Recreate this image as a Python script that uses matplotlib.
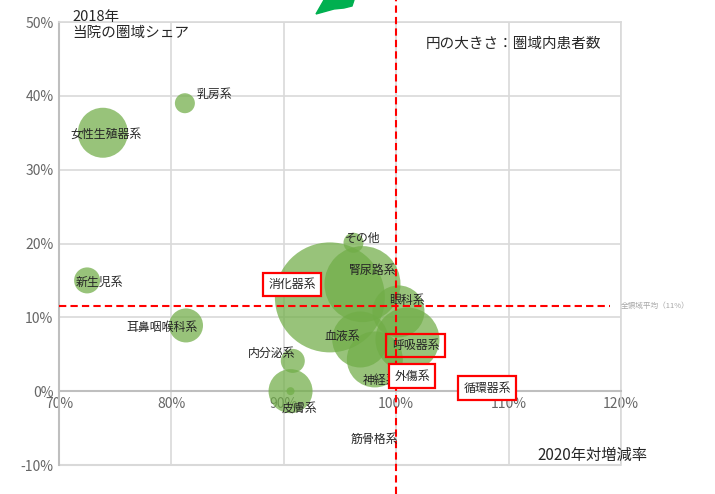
import matplotlib
matplotlib.use("Agg")
import matplotlib.pyplot as plt
import numpy as np
from matplotlib.patches import Polygon

plt.rcParams['font.family'] = ['Noto Sans CJK JP', 'DejaVu Sans']

# ---- data ----
names = ['消化器系', '腎尿路系', '呼吸器系', '血液系', '神経系', '眼科系', '女性生殖器系',
         '皮膚系', '耳鼻咽喉科系', '新生児系', '内分泌系', '乳房系', 'その他', '外傷系',
         '循環器系', '筋骨格系']
growth = [94.1, 97.0, 101.0, 96.8, 98.1, 100.2, 73.9, 90.6, 81.3, 72.5, 90.8, 81.2, 96.2,
          101.7, 108.1, 90.6]          # 2020年対増減率 (%)
share = [12.7, 14.5, 7.0, 7.0, 4.3, 10.8, 35.0, 0.0, 8.9, 15.0, 4.1, 39.0, 20.1,
         1.9, 0.4, 0.0]                # 2018年 当院の圏域シェア (%)
patients = [3025, 1444, 1024, 784, 784, 676, 625, 484, 289, 169, 144, 100, 100,
            36, 25, 16]                # 圏域内患者数 (relative)
avg_share = 11.5
boxed = {'消化器系': 'white', '呼吸器系': 'none', '外傷系': 'white', '循環器系': 'white'}
# label offsets in pixels (dx, dy) relative to bubble centre
label_off = {'消化器系': (-38, 13), '腎尿路系': (10, 14), '呼吸器系': (8, -6), '血液系': (-18, 3),
             '神経系': (6, -21), '眼科系': (8, 11), '女性生殖器系': (3, -2), '皮膚系': (9, -17),
             '耳鼻咽喉科系': (-24, -2), '新生児系': (12, -2), '内分泌系': (-21, 8), '乳房系': (30, 9),
             'その他': (9, 4), '外傷系': (-3, 1), '循環器系': (0, 0), '筋骨格系': (84, -48)}

fig = plt.figure(figsize=(7.15, 4.94), dpi=100)
ax = fig.add_axes([59/715, 29/494, 562/715, 443/494])
ax.set_xlim(70, 120)
ax.set_ylim(-10, 50)

xt = np.arange(70, 121, 10)
yt = np.arange(-10, 51, 10)
ax.set_xticks(xt)
ax.set_yticks(yt)
ax.set_xticklabels([f'{v}%' for v in xt])
ax.set_yticklabels([f'{v}%' for v in yt])
ax.tick_params(length=0, labelsize=10, labelcolor='#666666', pad=4)
ax.grid(True, color='#d9d9d9', lw=1.2, zorder=0)
ax.set_axisbelow(True)
for s in ['top', 'right']:
    ax.spines[s].set_color('#d9d9d9')
    ax.spines[s].set_linewidth(1.2)
ax.spines['bottom'].set_position(('data', 0))
ax.spines['bottom'].set_color('#bfbfbf')
ax.spines['bottom'].set_linewidth(1.5)
ax.spines['left'].set_color('#bfbfbf')
ax.spines['left'].set_linewidth(1.5)
ax.hlines(-10, 70, 120, color='#d9d9d9', lw=1.5, clip_on=False, zorder=0)

# bubbles (px radius -> points^2 area)
sizes = [p * (2 * 0.72) ** 2 for p in patients]
order = np.argsort(sizes)[::-1]
ax.scatter(np.array(growth)[order], np.array(share)[order], s=np.array(sizes)[order],
           color='#70AD47', alpha=0.72, edgecolors='none', zorder=3, clip_on=False)

for n, gx, sy in zip(names, growth, share):
    dx, dy = label_off[n]
    kw = {}
    if n in boxed:
        kw['bbox'] = dict(boxstyle='square,pad=0.45', fc=boxed[n], ec='#ff0000', lw=1.6)
    ax.annotate(n, (gx, sy), xytext=(dx, dy), textcoords='offset pixels',
                ha='center', va='center', fontsize=8.6, color='#262626', zorder=5, **kw)

# reference lines
ax.axvline(100, ymin=-0.066, ymax=1.05, color='#ff0000', lw=1.5,
           linestyle=(0, (3.5, 2)), clip_on=False, zorder=4)
ax.hlines(avg_share, 70, 119, color='#ff0000', lw=1.5, linestyle=(0, (3.5, 2)), zorder=4)
ax.text(120.0, avg_share, '全領域平均（11%）', fontsize=5.5, color='#a6a6a6',
        va='center', ha='left', clip_on=False)

# texts
fig.text(72/715, 1 - 10/494, '2018年\n当院の圏域シェア', fontsize=10.5, color='#262626',
         va='top', ha='left', linespacing=1.15)
fig.text(513/715, 1 - 44/494, '円の大きさ：圏域内患者数', fontsize=10.5, color='#262626',
         va='center', ha='center')
fig.text(592/715, 1 - 455/494, '2020年対増減率', fontsize=11, color='#262626',
         va='center', ha='center')

# decorative green arrow fragment at top
arrow = Polygon(np.array([[316, 14], [324, 0], [354, 0], [352, 6], [344, 8], [334, 9]]) / [715, 494] * [1, -1] + [0, 1],
                closed=True, transform=fig.transFigure, color='#00B050', zorder=10)
fig.patches.append(arrow)

fig.savefig('out.png', dpi=100)
